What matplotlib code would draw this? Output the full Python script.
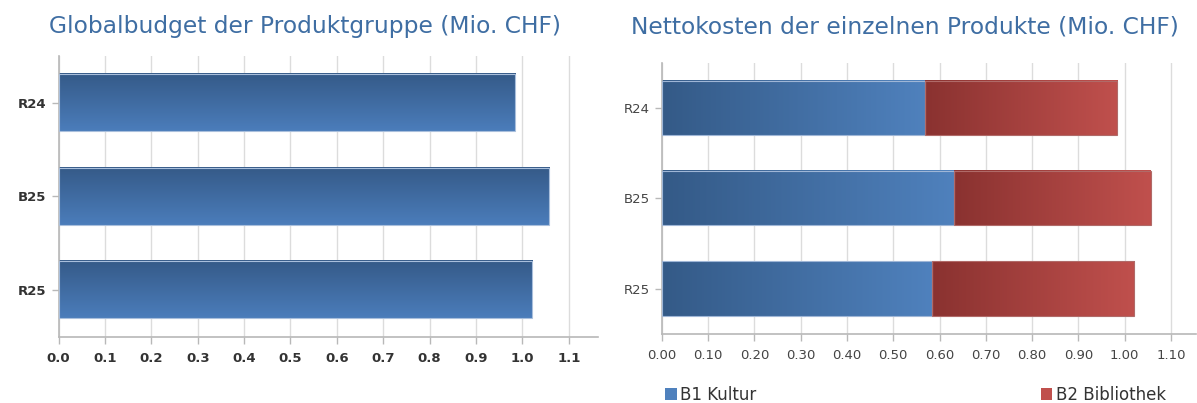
import numpy as np
import matplotlib
matplotlib.use("Agg")
import matplotlib.pyplot as plt
from matplotlib.colors import LinearSegmentedColormap
from matplotlib.patches import Rectangle

categories = ["R24", "B25", "R25"]
global_budget = [0.984, 1.057, 1.021]
b1_kultur = [0.568, 0.632, 0.583]
b2_bibliothek = [0.416, 0.425, 0.438]
left_ticks = [0.0, 0.1, 0.2, 0.3, 0.4, 0.5, 0.6, 0.7, 0.8, 0.9, 1.0, 1.1]
right_ticks = [0.0, 0.1, 0.2, 0.3, 0.4, 0.5, 0.6, 0.7, 0.8, 0.9, 1.0, 1.1]
title_left = "Globalbudget der Produktgruppe (Mio. CHF)"
title_right = "Nettokosten der einzelnen Produkte (Mio. CHF)"
legend_labels = ["B1 Kultur", "B2 Bibliothek"]

title_color = "#3f6ea3"
grid_color = "#dcdcdc"
axis_color = "#b8b8b8"

blue_h = LinearSegmentedColormap.from_list("bh", ["#345a87", "#4f81bd"])
red_h = LinearSegmentedColormap.from_list("rh", ["#8a3230", "#c0504d"])
blue_v = LinearSegmentedColormap.from_list("bv", ["#355a88", "#4b7dbb"])

fig = plt.figure(figsize=(11.97, 4.03), dpi=100)
axL = fig.add_axes([0.0489, 0.165, 0.4507, 0.696])
axR = fig.add_axes([0.553, 0.172, 0.446, 0.6717])


def gradient_bar(ax, patch, cmap, horizontal):
    x, y = patch.get_x(), patch.get_y()
    w, h = patch.get_width(), patch.get_height()
    if horizontal:
        grad = np.linspace(0, 1, 256).reshape(1, -1)
    else:
        grad = np.linspace(0, 1, 256).reshape(-1, 1)
    ax.imshow(grad, cmap=cmap, aspect="auto", extent=(x, x + w, y + h, y),
              origin="upper", zorder=2, interpolation="bilinear")
    patch.set_facecolor("none")
    patch.set_zorder(3)


def style_axes(ax, ticks, fmt, bold, labelcolor, xmax):
    ax.set_xlim(0, xmax)
    ax.set_ylim(2.5, -0.5)
    ax.set_xticks(ticks)
    ax.set_xticklabels([fmt.format(t) for t in ticks])
    ax.set_yticks(range(len(categories)))
    ax.set_yticklabels(categories)
    ax.grid(axis="x", color=grid_color, linewidth=1, zorder=0)
    ax.set_axisbelow(True)
    for s in ["top", "right"]:
        ax.spines[s].set_visible(False)
    for s in ["left", "bottom"]:
        ax.spines[s].set_color(axis_color)
        ax.spines[s].set_linewidth(1.2)
    ax.tick_params(axis="both", colors=axis_color, length=5, width=1,
                   labelcolor=labelcolor, labelsize=9.5)
    for lab in ax.get_xticklabels() + ax.get_yticklabels():
        if bold:
            lab.set_fontweight("bold")
    ax.tick_params(axis="x", pad=6)
    ax.tick_params(axis="y", pad=4)


# Left chart
barsL = axL.barh(range(len(categories)), global_budget, height=0.61,
                 edgecolor="#a9bfdc", linewidth=0.8)
for p in barsL:
    gradient_bar(axL, p, blue_v, horizontal=False)
style_axes(axL, left_ticks, "{:.1f}", True, "#333333", 1.163)

# Right chart
barsB1 = axR.barh(range(len(categories)), b1_kultur, height=0.6,
                  edgecolor="#9fb6d6", linewidth=0.8, label=legend_labels[0])
barsB2 = axR.barh(range(len(categories)), b2_bibliothek, left=b1_kultur,
                  height=0.6, edgecolor="#b06a68", linewidth=0.8,
                  label=legend_labels[1])
for p in barsB1:
    gradient_bar(axR, p, blue_h, horizontal=True)
for p in barsB2:
    gradient_bar(axR, p, red_h, horizontal=True)
style_axes(axR, right_ticks, "{:.2f}", False, "#444444", 1.154)

# Titles
fig.text(305 / 1197, 1 - 27 / 403, title_left, color=title_color,
         fontsize=16.8, ha="center", va="center")
fig.text(905 / 1197, 1 - 27 / 403, title_right, color=title_color,
         fontsize=16.8, ha="center", va="center")

# Legend
leg_handles = [Rectangle((0, 0), 1, 1, facecolor="#4f81bd"),
               Rectangle((0, 0), 1, 1, facecolor="#c0504d")]
fig.legend([leg_handles[0]], [legend_labels[0]], loc="center left",
           bbox_to_anchor=(0.543, 0.02), frameon=False, fontsize=12,
           handlelength=0.7, handleheight=0.7, handletextpad=0.2,
           labelcolor="#333333")
fig.legend([leg_handles[1]], [legend_labels[1]], loc="center left",
           bbox_to_anchor=(0.857, 0.02), frameon=False, fontsize=12,
           handlelength=0.7, handleheight=0.7, handletextpad=0.2,
           labelcolor="#333333")

fig.savefig("out.png", dpi=100, facecolor="white")
